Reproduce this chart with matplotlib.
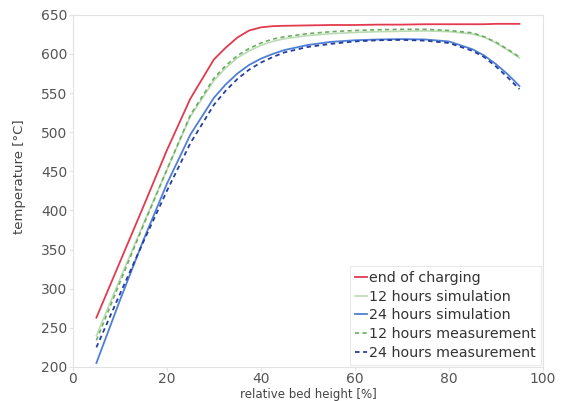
import matplotlib
matplotlib.use("Agg")
import matplotlib.pyplot as plt

# relative bed height [%]
height = [5, 10, 15, 20, 25, 30, 32.5, 35, 37.5, 40, 42.5, 45, 50, 55, 60, 65, 70, 75, 80, 85, 87.5, 90, 92.5, 95]

end_of_charging = [263, 334, 405, 477, 543, 593, 608, 621, 630, 634, 635.5, 636, 636.5, 637, 637, 637.5, 637.5, 638, 638, 638, 638, 638.5, 638.5, 638.5]
sim_12h = [240, 312, 383, 452, 520, 566, 582, 595, 604, 611, 616, 619.5, 623.5, 626, 627.5, 628.5, 629, 629.5, 628.5, 625.5, 621.5, 614, 605, 595]
sim_24h = [205, 285, 362, 434, 497, 544, 561, 575, 586, 594, 600, 605, 611.5, 615.5, 617.5, 618.5, 619, 618.5, 616, 606, 598, 587, 574, 559]
meas_12h = [234, 308, 381, 452, 522, 569, 585, 598, 607, 614, 619, 622, 626, 628.5, 630, 631, 631.5, 631.5, 630, 627, 622, 615, 606, 596]
meas_24h = [225, 293, 360, 425, 486, 535, 553, 568, 580, 589, 596, 602, 609, 613, 616, 617.5, 618, 617, 614, 604, 596, 584, 570, 555]

labels = ["end of charging", "12 hours simulation", "24 hours simulation",
          "12 hours measurement", "24 hours measurement"]

fig = plt.figure(figsize=(5.65, 4.01), dpi=100)
ax = fig.add_axes([0.129, 0.085, 0.832, 0.878])

ax.plot(height, end_of_charging, color="#e23a4e", lw=1.3, label=labels[0])
ax.plot(height, sim_12h, color="#b9dcb2", lw=1.2, label=labels[1])
ax.plot(height, sim_24h, color="#4f7fd6", lw=1.3, label=labels[2])
ax.plot(height, meas_12h, color="#6cad62", lw=1.2, ls=(0, (2.5, 2)), label=labels[3])
ax.plot(height, meas_24h, color="#243f9c", lw=1.3, ls=(0, (2.5, 2)), label=labels[4])

ax.set_xlim(0, 100)
ax.set_ylim(200, 650)
ax.set_xticks([0, 20, 40, 60, 80, 100])
ax.set_yticks(range(200, 651, 50))

for s in ax.spines.values():
    s.set_color("#e2e2e2")
    s.set_linewidth(0.8)
ax.tick_params(axis="both", colors="#e2e2e2", labelcolor="#555555", labelsize=10, length=3)
ax.tick_params(axis="x", pad=1)
ax.tick_params(axis="y", pad=1)

ax.set_xlabel("relative bed height [%]", fontsize=8.5, color="#444444", labelpad=1)
ax.set_ylabel("temperature [°C]", fontsize=9.5, color="#444444", labelpad=1)
ax.yaxis.set_label_coords(-0.1, 0.54)

leg = ax.legend(loc="lower right", fontsize=10.3, handlelength=0.8, handletextpad=0.15,
                borderpad=0.35, labelspacing=0.33, frameon=True, fancybox=False,
                borderaxespad=0.15)
leg.get_frame().set_edgecolor("#e4e4e4")
leg.get_frame().set_linewidth(0.8)
for t in leg.get_texts():
    t.set_color("#333333")

fig.savefig("out.png", dpi=100)
